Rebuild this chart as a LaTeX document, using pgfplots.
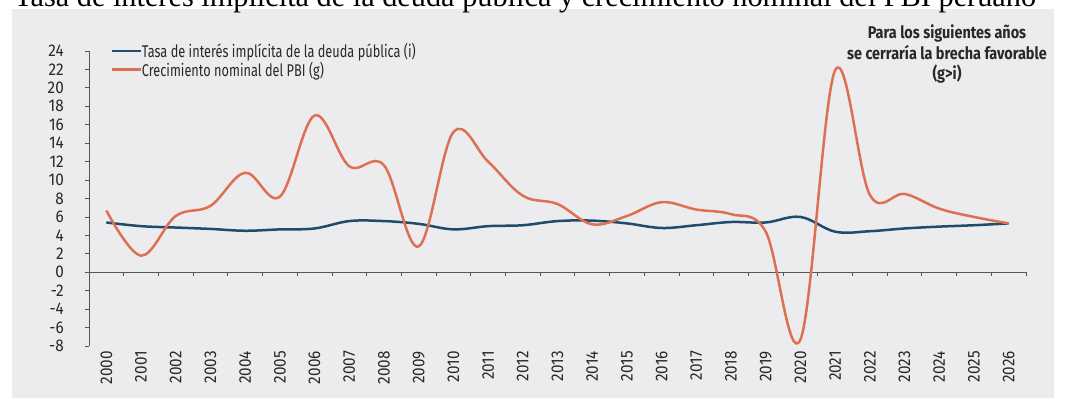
\documentclass[border=0pt]{standalone}
\usepackage{pgfplots}
\pgfplotsset{compat=1.18}
\usepackage{pgfplotstable}
\usepackage{fontspec}
\setmainfont{Fira Sans}
\newfontfamily\tickfont{Fira Sans}[FakeStretch=0.9]
\newfontfamily\legfont{Fira Sans}[FakeStretch=0.75]
\newfontfamily\annfont{Fira Sans}[FakeStretch=0.85]
\newfontfamily\titlefont{Liberation Serif}
\definecolor{bg}{RGB}{236,236,238}
\definecolor{cblue}{RGB}{30,76,110}
\definecolor{corange}{RGB}{222,112,82}
\definecolor{axisgray}{RGB}{85,85,85}
\definecolor{txt}{RGB}{40,40,40}
\pgfdeclarelayer{background}
\pgfsetlayers{background,main}

\pgfplotstableread{
x i g
0 5.4 6.7
1 5.0 1.8
2 4.85 6.1
3 4.7 7.2
4 4.5 10.8
5 4.65 8.2
6 4.75 17.0
7 5.55 11.5
8 5.55 11.6
9 5.25 2.8
10 4.65 15.2
11 5.0 12.0
12 5.1 8.3
13 5.55 7.4
14 5.6 5.2
15 5.3 6.1
16 4.8 7.6
17 5.1 6.8
18 5.45 6.3
19 5.4 4.4
20 6.0 -7.3
21 4.4 21.9
22 4.45 8.4
23 4.75 8.5
24 4.95 6.9
25 5.1 6.0
26 5.3 5.3
}\data

\begin{document}
\begin{tikzpicture}
\begin{axis}[
  name=main, scale only axis,
  width=937pt, height=295pt,
  xmin=-0.5, xmax=26.5, ymin=-8, ymax=24,
  axis x line=middle, axis y line=left,
  axis line style={-, draw=axisgray, line width=0.8pt},
  xtick={-0.5,0.5,...,26.5}, xticklabels={},
  ytick={-8,-6,...,24},
  yticklabels={-8,-6,-4,-2,0,2,4,6,8,10,12,14,16,18,20,22,24},
  tick align=outside, major tick length=4pt,
  tick style={draw=axisgray, line width=0.8pt},
  yticklabel style={font=\tickfont\fontsize{17}{20}\selectfont, text=txt, inner sep=0pt, xshift=-21pt},
  legend style={at={(0.0226,1.028)}, anchor=north west, draw=none, fill=none,
    inner sep=0pt, row sep=3pt, column sep=0pt,
    font=\legfont\fontsize{17}{20}\selectfont, text=txt,
    nodes={inner sep=0pt}},
  legend cell align=left,
  legend image code/.code={\draw[#1] (0pt,0pt) -- (20pt,0pt); \path (20pt,0pt) -- (29pt,0pt);},
]
\addplot[cblue, line width=2.5pt, smooth, tension=0.6] table[x=x,y=i]{\data};
\addlegendentry{Tasa de interés implícita de la deuda pública (i)}
\addplot[corange, line width=2.5pt, smooth, tension=0.6] table[x=x,y=g]{\data};
\addlegendentry{Crecimiento nominal del PBI (g)}
\end{axis}
\begin{axis}[
  at={(main.south west)}, anchor=south west, scale only axis,
  width=937pt, height=295pt,
  xmin=-0.5, xmax=26.5, ymin=-8, ymax=24,
  axis line style={draw=none}, tick style={draw=none},
  ytick=\empty,
  xtick={0,...,26},
  xticklabels={2000,2001,2002,2003,2004,2005,2006,2007,2008,2009,2010,2011,2012,2013,2014,2015,2016,2017,2018,2019,2020,2021,2022,2023,2024,2025,2026},
  xticklabel style={rotate=90, anchor=east, font=\tickfont\fontsize{17}{20}\selectfont, text=txt, inner sep=0pt, xshift=-5pt},
]
\end{axis}
\begin{scope}[shift={(main.south west)}]
\path (-89pt,-55pt) rectangle (976pt,346pt);
\begin{pgfonlayer}{background}
\fill[bg] (-77pt,-52pt) rectangle (965pt,337pt);
\end{pgfonlayer}
\pgfinterruptboundingbox
\node[anchor=base west, inner sep=0pt, font=\titlefont\fontsize{30.3}{33}\selectfont] at (-75pt,339pt) {Tasa de interés implícita de la deuda pública y crecimiento nominal del PBI peruano};
\endpgfinterruptboundingbox
\node[align=center, font=\annfont\bfseries\fontsize{17}{20.5}\selectfont, text=txt] at (858pt,292pt) {Para los siguientes años\\se cerraría la brecha favorable\\(g>i)};
\end{scope}
\end{tikzpicture}
\end{document}
